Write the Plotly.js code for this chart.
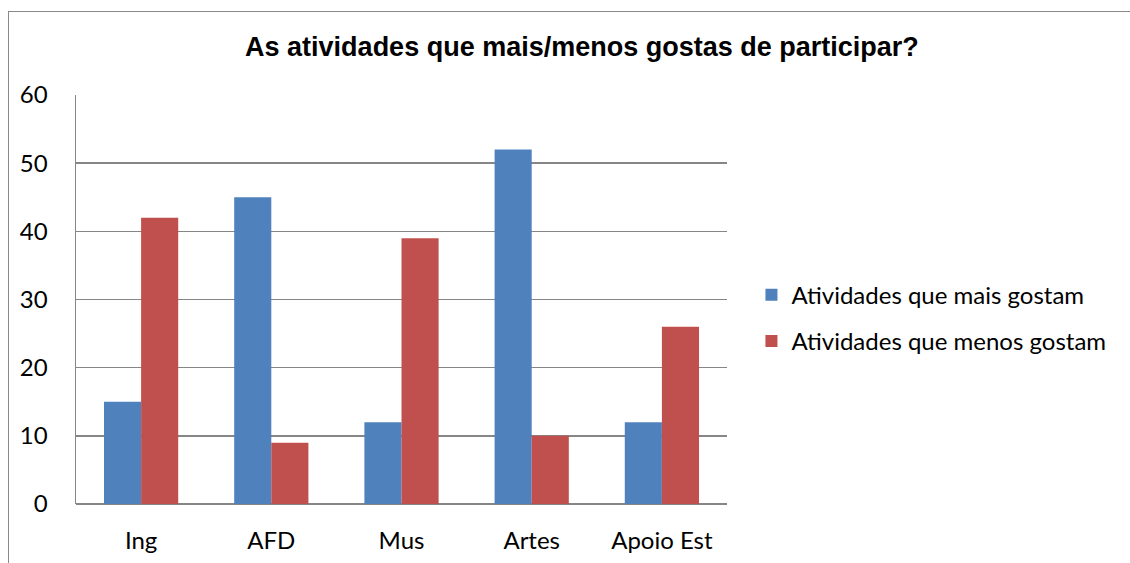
<!DOCTYPE html>
<html><head><meta charset="utf-8">
<script src="https://cdn.plot.ly/plotly-3.0.1.min.js"></script>
<style>
html,body{margin:0;padding:0;background:#fff;}
#wrap{position:relative;width:1130px;height:563px;}
#chart{width:1130px;height:563px;}
#frame{position:absolute;left:8px;top:11px;width:1122px;height:552px;border-left:1.5px solid #8a8a8a;border-top:1.5px solid #8a8a8a;pointer-events:none;box-sizing:border-box;}
</style>
</head><body>
<div id="wrap"><div id="chart"></div><div id="frame"></div></div>
<script>
const categories = ["Ing", "AFD", "Mus", "Artes", "Apoio Est"];
const maisGostam = [15, 45, 12, 52, 12];
const menosGostam = [42, 9, 39, 10, 26];
const seriesNames = ["Atividades que mais gostam", "Atividades que menos gostam"];
const yTicks = [0, 10, 20, 30, 40, 50, 60];

const labelFont = {family: "Lato, 'Open Sans', sans-serif", size: 24, color: "#000"};

const traces = [
  {type: "bar", name: seriesNames[0], x: categories, y: maisGostam,
   marker: {color: "#4f81bd", line: {color: "#4f81bd", width: 0}}, legendgroup: "a"},
  {type: "bar", name: seriesNames[1], x: categories, y: menosGostam,
   marker: {color: "#c0504d", line: {color: "#c0504d", width: 0}}, legendgroup: "b"}
];

const layout = {
  width: 1130, height: 563,
  margin: {l: 76, r: 403, t: 95, b: 59},
  paper_bgcolor: "#fff", plot_bgcolor: "#fff",
  barmode: "group", bargap: 0.43, bargroupgap: 0,
  title: {text: "As atividades que mais/menos gostas de participar?",
          font: {family: "'Liberation Sans', Arial, sans-serif", size: 27, color: "#000", weight: "bold"},
          xref: "container", x: 0.515, xanchor: "center", yref: "container", y: 0.917, yanchor: "middle"},
  xaxis: {tickfont: labelFont, showgrid: false, showline: false, zeroline: false,
          ticks: "", ticklabelstandoff: 20},
  yaxis: {range: [0, 60], tickvals: yTicks, tickfont: labelFont,
          showgrid: true, gridcolor: "#868686", gridwidth: 1.5,
          showline: true, linecolor: "#868686", linewidth: 1.5,
          zeroline: true, zerolinecolor: "#868686", zerolinewidth: 1.5,
          ticks: "", ticklabelstandoff: 22},
  showlegend: true,
  legend: {xref: "container", yref: "container", x: 0.665, y: 0.435, xanchor: "left", yanchor: "middle",
           font: labelFont, tracegroupgap: 12, bgcolor: "rgba(0,0,0,0)", itemwidth: 30},
  font: labelFont
};

Plotly.newPlot("chart", traces, layout, {displayModeBar: false, staticPlot: true});
</script>
</body></html>
